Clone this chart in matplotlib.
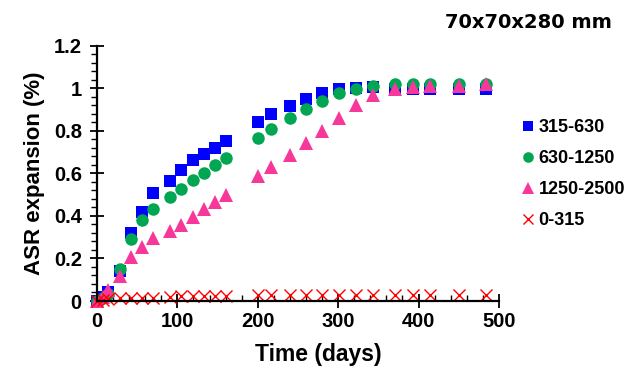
import numpy as np
import matplotlib
matplotlib.use("Agg")
import matplotlib.pyplot as plt
from matplotlib.ticker import MultipleLocator, FuncFormatter

# data
days = [0, 7, 14, 28, 42, 56, 70, 91, 105, 119, 133, 147, 161,
        200, 217, 240, 260, 280, 301, 322, 343, 371, 393, 414, 450, 484]

exp_315_630 = [0, 0.02, 0.04, 0.14, 0.32, 0.42, 0.505, 0.565, 0.615, 0.66, 0.69, 0.72, 0.75,
               0.84, 0.88, 0.915, 0.95, 0.977, 0.994, 1.0, 1.003, 0.998, 0.998, 0.997, 0.997, 0.997]
exp_630_1250 = [0, 0.015, 0.035, 0.15, 0.29, 0.38, 0.43, 0.49, 0.525, 0.567, 0.60, 0.637, 0.67,
                0.766, 0.806, 0.858, 0.90, 0.94, 0.975, 0.997, 1.01, 1.02, 1.02, 1.02, 1.02, 1.02]
exp_1250_2500 = [0, 0.02, 0.05, 0.117, 0.208, 0.252, 0.294, 0.328, 0.356, 0.395, 0.434, 0.466, 0.497,
                 0.586, 0.63, 0.684, 0.742, 0.80, 0.861, 0.919, 0.966, 0.994, 1.005, 1.01, 1.01, 1.017]
exp_0_315 = [0, 0.005, 0.01, 0.012, 0.014, 0.014, 0.015, 0.02, 0.022, 0.024, 0.024, 0.025, 0.025,
             0.027, 0.027, 0.027, 0.027, 0.028, 0.028, 0.028, 0.027, 0.028, 0.028, 0.028, 0.029, 0.03]

labels = ["315-630", "630-1250", "1250-2500", "0-315"]

plt.rcParams['font.family'] = ['Liberation Sans', 'DejaVu Sans']
plt.rcParams['font.weight'] = 'bold'

fig = plt.figure(figsize=(6.26, 3.73), dpi=100)
ax = fig.add_axes([0.155, 0.193, 0.642, 0.685])

ax.plot(days, exp_315_630, 's', color='#0000FF', markersize=9, markeredgewidth=0, label=labels[0], clip_on=False)
ax.plot(days, exp_630_1250, 'o', color='#00A651', markersize=9, markeredgewidth=0, label=labels[1], clip_on=False)
ax.plot(days, exp_1250_2500, '^', color='#F8379A', markersize=9.5, markeredgewidth=0, label=labels[2], clip_on=False)
ax.plot(days, exp_0_315, 'x', color='#FF0000', markersize=8.5, markeredgewidth=1.0, label=labels[3], clip_on=False)

ax.set_xlim(0, 500)
ax.set_ylim(0, 1.2)
ax.xaxis.set_major_locator(MultipleLocator(100))
ax.xaxis.set_minor_locator(MultipleLocator(20))
ax.yaxis.set_major_locator(MultipleLocator(0.2))
ax.yaxis.set_minor_locator(MultipleLocator(0.04))
ax.yaxis.set_major_formatter(FuncFormatter(lambda v, p: "%g" % round(v, 2)))

for s in ['top', 'right']:
    ax.spines[s].set_visible(False)
for s in ['left', 'bottom']:
    ax.spines[s].set_linewidth(1.6)

ax.tick_params(axis='both', which='major', direction='inout', length=10, width=1.3, labelsize=14.5)
ax.tick_params(axis='y', which='major', pad=6)
ax.tick_params(axis='x', which='major', pad=3)
ax.tick_params(axis='x', which='minor', direction='in', length=4, width=1)
ax.tick_params(axis='y', which='minor', direction='out', length=4, width=1)

ax.set_xlabel("Time (days)", fontsize=16.5, fontweight='bold', labelpad=3)
ax.xaxis.set_label_coords(0.55, -0.165)
ax.set_ylabel("ASR expansion (%)", fontsize=16, fontweight='bold', labelpad=6)

fig.text(0.978, 0.94, "70x70x280 mm", fontsize=14, fontweight='bold', ha='right', va='center',
         family='DejaVu Sans')

ax.legend(loc='upper left', bbox_to_anchor=(0.82, 0.70), bbox_transform=fig.transFigure,
          frameon=False, fontsize=13, handlelength=0.8, handletextpad=0.2, labelspacing=0.78,
          borderaxespad=0, markerscale=0.85)

fig.savefig("out.png", dpi=100)
